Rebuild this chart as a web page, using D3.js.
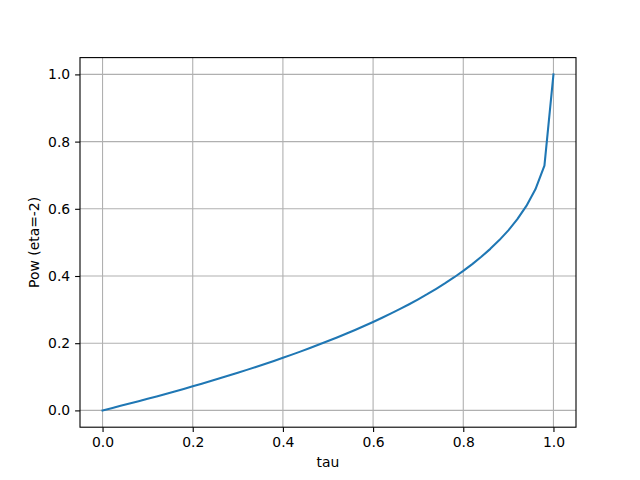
<!DOCTYPE html>
<html><head><meta charset="utf-8">
<script src="https://cdn.jsdelivr.net/npm/d3@7"></script>
<style>body{margin:0;background:#fff}svg{display:block}text{font-family:"DejaVu Sans",sans-serif}</style>
</head><body><svg id="c" width="640" height="480"></svg>
<script>
const tau = [0,0.02,0.04,0.06,0.08,0.10,0.12,0.14,0.16,0.18,0.20,0.22,0.24,0.26,0.28,0.30,0.32,0.34,0.36,0.38,0.40,0.42,0.44,0.46,0.48,0.50,0.52,0.54,0.56,0.58,0.60,0.62,0.64,0.66,0.68,0.70,0.72,0.74,0.76,0.78,0.80,0.82,0.84,0.86,0.88,0.90,0.92,0.94,0.96,0.98,1.00];
const powVals = [0,0.0067,0.0135,0.0204,0.0274,0.0345,0.0417,0.0490,0.0565,0.0640,0.0717,0.0795,0.0874,0.0955,0.1037,0.1121,0.1206,0.1293,0.1382,0.1473,0.1566,0.1660,0.1757,0.1857,0.1959,0.2063,0.2170,0.2281,0.2394,0.2511,0.2632,0.2757,0.2886,0.3021,0.3160,0.3306,0.3458,0.3618,0.3786,0.3963,0.4152,0.4354,0.4571,0.4808,0.5068,0.5358,0.5691,0.6085,0.6580,0.7286,1.0];
const xTicks = [0.0,0.2,0.4,0.6,0.8,1.0];
const yTicks = [0.0,0.2,0.4,0.6,0.8,1.0];
const xLabel = "tau", yLabel = "Pow (eta=-2)";

const svg = d3.select("#c");
const L=80,R=576,T=57.6,B=427.2;
const x = d3.scaleLinear().domain([-0.05,1.05]).range([L,R]);
const y = d3.scaleLinear().domain([-0.05,1.05]).range([B,T]);
const fs = "13.9px";
// grid
svg.append("g").selectAll("line").data(xTicks).join("line")
  .attr("x1",d=>x(d)).attr("x2",d=>x(d)).attr("y1",T).attr("y2",B)
  .attr("stroke","#b0b0b0").attr("stroke-width",1.1);
svg.append("g").selectAll("line").data(yTicks).join("line")
  .attr("y1",d=>y(d)).attr("y2",d=>y(d)).attr("x1",L).attr("x2",R)
  .attr("stroke","#b0b0b0").attr("stroke-width",1.1);
// line
svg.append("path").datum(tau.map((t,i)=>[t,powVals[i]]))
  .attr("d",d3.line().x(d=>x(d[0])).y(d=>y(d[1])))
  .attr("fill","none").attr("stroke","#1f77b4").attr("stroke-width",2.08)
  .attr("stroke-linejoin","round").attr("stroke-linecap","square");
// axes
const xa = svg.append("g").attr("transform",`translate(0,${B})`)
  .call(d3.axisBottom(x).tickValues(xTicks).tickFormat(d3.format(".1f")).tickSizeInner(4.9).tickSizeOuter(0).tickPadding(4.9));
const ya = svg.append("g").attr("transform",`translate(${L},0)`)
  .call(d3.axisLeft(y).tickValues(yTicks).tickFormat(d3.format(".1f")).tickSizeInner(4.9).tickSizeOuter(0).tickPadding(4.9));
[xa,ya].forEach(a=>{a.select(".domain").remove();
  a.selectAll("line").attr("stroke","#000").attr("stroke-width",1.1);
  a.selectAll("text").attr("font-size",fs).attr("font-family","DejaVu Sans").attr("fill","#000");});
// frame
svg.append("rect").attr("x",L).attr("y",T).attr("width",R-L).attr("height",B-T)
  .attr("fill","none").attr("stroke","#000").attr("stroke-width",1.1);
svg.append("text").attr("x",(L+R)/2).attr("y",467).attr("text-anchor","middle")
  .attr("font-size",fs).text(xLabel);
svg.append("text").attr("transform",`translate(39,${(T+B)/2}) rotate(-90)`).attr("text-anchor","middle")
  .attr("font-size",fs).text(yLabel);
</script></body></html>
